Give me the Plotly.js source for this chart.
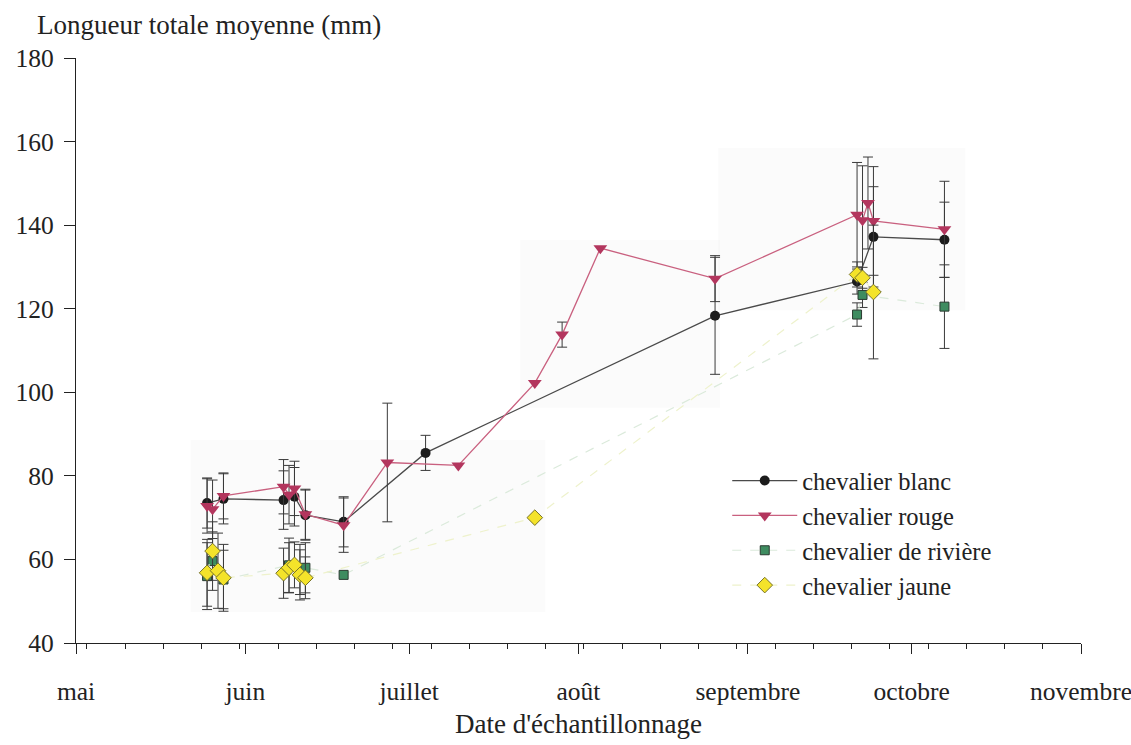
<!DOCTYPE html>
<html>
<head>
<meta charset="utf-8">
<script src="https://cdn.plot.ly/plotly-3.0.1.min.js"></script>
<style>
  html, body { margin: 0; padding: 0; background: #ffffff; }
  #chart { width: 1131px; height: 745px; }
</style>
</head>
<body>
<div id="chart"></div>
<script>
// Mean total length (mm) of four sucker species by sampling date, with ± error bars.

const monthTicks = ['2000-05-01', '2000-06-01', '2000-07-01', '2000-08-01', '2000-09-01', '2000-10-01', '2000-11-01'];
const monthLabels = ['mai', 'juin', 'juillet', 'août', 'septembre', 'octobre', 'novembre'];

const seriesNames = ['chevalier blanc', 'chevalier rouge', 'chevalier de rivière', 'chevalier jaune'];

const blancDates = ['2000-05-25', '2000-05-28', '2000-06-08', '2000-06-10', '2000-06-12', '2000-06-19',
                    '2000-07-04', '2000-08-26', '2000-09-21', '2000-09-24', '2000-10-07'];
const blancMean  = [73.5, 74.5, 74.2, 75.0, 70.6, 69.0, 85.5, 118.3, 126.5, 137.2, 136.5];
const blancErr   = [6, 6, 7, 7, 6, 6, 4.2, 14, 3, 12, 9];

const rougeDates = ['2000-05-25', '2000-05-26', '2000-05-28', '2000-06-08', '2000-06-09', '2000-06-10',
                    '2000-06-12', '2000-06-19', '2000-06-27', '2000-07-10', '2000-07-24', '2000-07-29',
                    '2000-08-05', '2000-08-26', '2000-09-21', '2000-09-22', '2000-09-23', '2000-09-24',
                    '2000-10-07'];
const rougeMean  = [72.8, 72.0, 75.2, 77.4, 75.5, 77.0, 70.8, 68.2, 83.2, 82.5, 102.2, 113.8,
                    134.5, 127.2, 142.5, 141.2, 145.3, 141.0, 139.0];
const rougeErr   = [6.5, 7, 5.5, 6.5, 7, 6.5, 6, 6.5, 14.2, null, null, 3,
                    null, 5.5, 12.5, 13, 11, 13, 11.5];

const riviereDates = ['2000-05-25', '2000-05-26', '2000-05-28', '2000-06-09', '2000-06-11', '2000-06-12',
                      '2000-06-19', '2000-09-21', '2000-09-22', '2000-10-07'];
const riviereMean  = [56.0, 59.6, 55.2, 58.6, 57.6, 58.0, 56.3, 118.6, 123.3, 120.5];
const riviereErr   = [8, 7, 7, 6.5, 6, 6, null, 2.8, 3, 10];

const jauneDates = ['2000-05-25', '2000-05-26', '2000-05-27', '2000-05-28', '2000-06-08', '2000-06-09',
                    '2000-06-10', '2000-06-11', '2000-06-12', '2000-07-24', '2000-09-21', '2000-09-22',
                    '2000-09-24'];
const jauneMean  = [56.8, 62.0, 57.3, 55.6, 56.7, 58.0, 58.7, 56.3, 55.6, 70.0, 128.2, 127.4, 124.0];
const jauneErr   = [8, 7, 9, 8, 6, 6, 5.5, 6, 5, null, 3, 2.5, 16];

const SERIF = '"Liberation Serif", "Times New Roman", Times, serif';
const INK = '#222222';

// Missing errors become NaN so Plotly skips the bar entirely.
function errArray(a) { return a.map(v => (v === null ? NaN : v)); }

function errorBars(values) {
  return { type: 'data', array: errArray(values), visible: true,
           color: '#3a3a3a', thickness: 1, width: 5 };
}

const traces = [
  {
    name: seriesNames[0], x: blancDates, y: blancMean, mode: 'lines+markers', type: 'scatter',
    line: { color: '#4a4a4a', width: 1.3 },
    marker: { symbol: 'circle', size: 10, color: '#1c1c1c' },
    error_y: errorBars(blancErr)
  },
  {
    name: seriesNames[1], x: rougeDates, y: rougeMean, mode: 'lines+markers', type: 'scatter',
    line: { color: '#c9607f', width: 1.3 },
    marker: { symbol: 'triangle-down', size: 12, color: '#b3365e' },
    error_y: errorBars(rougeErr)
  },
  {
    name: seriesNames[2], x: riviereDates, y: riviereMean, mode: 'lines+markers', type: 'scatter',
    line: { color: '#dbeadb', width: 1.2, dash: 'dash' },
    marker: { symbol: 'square', size: 9, color: '#3e8c60', line: { color: '#2a3a30', width: 1 } },
    error_y: errorBars(riviereErr)
  },
  {
    name: seriesNames[3], x: jauneDates, y: jauneMean, mode: 'lines+markers', type: 'scatter',
    line: { color: '#eef2cc', width: 1.2, dash: 'dash' },
    marker: { symbol: 'diamond', size: 12, color: '#f4e32a', line: { color: '#77732a', width: 1 } },
    error_y: errorBars(jauneErr)
  }
];

// Pale scan-like panels behind the data.
function panel(x0, x1, y0, y1) {
  return { type: 'rect', xref: 'paper', yref: 'paper', x0: x0, x1: x1, y0: y0, y1: y1,
           fillcolor: 'rgba(0,0,0,0.016)', line: { width: 0 }, layer: 'below' };
}

const layout = {
  width: 1131, height: 745,
  margin: { l: 76, r: 50, t: 58, b: 102 },
  paper_bgcolor: '#ffffff', plot_bgcolor: '#ffffff',
  font: { family: SERIF, size: 25, color: INK },
  showlegend: true,
  legend: {
    x: 0.648, y: 0.316, xanchor: 'left', yanchor: 'top',
    bgcolor: 'rgba(0,0,0,0)', borderwidth: 0,
    font: { family: SERIF, size: 24.5, color: INK },
    itemwidth: 65, tracegroupgap: 0
  },
  xaxis: {
    type: 'date',
    range: ['2000-05-01', '2000-11-01'],
    tickmode: 'array', tickvals: monthTicks, ticktext: monthLabels,
    ticks: 'outside', ticklen: 10, tickwidth: 1, tickcolor: INK,
    ticklabelstandoff: 15, ticklabeloverflow: 'allow',
    minor: { dtick: 7 * 86400000, tick0: '2000-05-03', ticks: 'outside', ticklen: 5,
             tickwidth: 1, tickcolor: INK, showgrid: false },
    showline: true, linecolor: INK, linewidth: 1.2,
    showgrid: false, zeroline: false,
    tickfont: { family: SERIF, size: 25.5, color: INK },
    title: { text: "Date d'échantillonnage", font: { family: SERIF, size: 27, color: INK }, standoff: 9 }
  },
  yaxis: {
    range: [40, 180], dtick: 20, tick0: 40,
    ticks: 'outside', ticklen: 11, tickwidth: 1, tickcolor: INK,
    ticklabelstandoff: 5,
    showline: true, linecolor: INK, linewidth: 1.2,
    showgrid: false, zeroline: false,
    tickfont: { family: SERIF, size: 25.5, color: INK }
  },
  annotations: [
    { text: 'Longueur totale moyenne (mm)', xref: 'paper', yref: 'paper',
      x: -0.041, y: 1.056, xanchor: 'left', yanchor: 'middle', showarrow: false,
      font: { family: SERIF, size: 27, color: INK } }
  ],
  shapes: [
    panel(0.114, 0.467, 0.053, 0.347),
    panel(0.442, 0.641, 0.402, 0.689),
    panel(0.639, 0.885, 0.569, 0.846)
  ]
};

Plotly.newPlot('chart', traces, layout, { displayModeBar: false, staticPlot: true });
</script>
</body>
</html>
